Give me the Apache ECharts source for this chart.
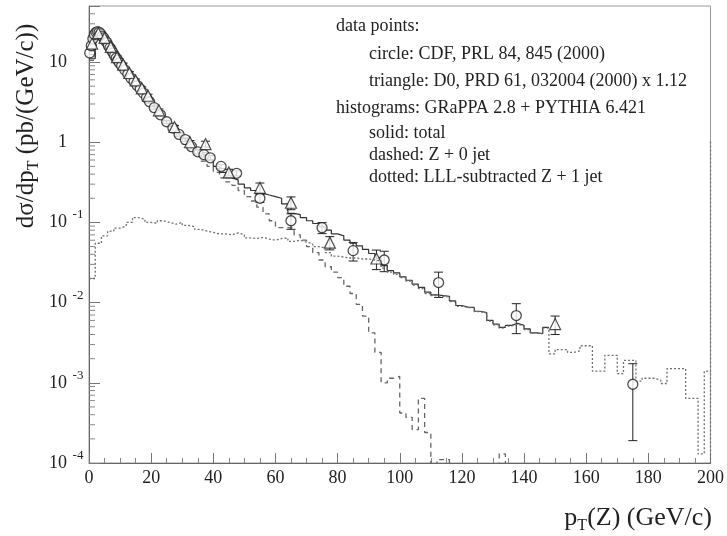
<!DOCTYPE html>
<html>
<head>
<meta charset="utf-8">
<script src="https://cdn.jsdelivr.net/npm/echarts@6/dist/echarts.min.js"></script>
<style>
html,body{margin:0;padding:0;background:#fff;}
#chart{width:727px;height:536px;}
</style>
</head>
<body>
<div id="chart"></div>
<script>
// ---- data ----
const binWidth = 2; // GeV
// solid: total, bins 0-148
const totalVals = [11,22,20,15.5,12,9.3,7.5,5.9,4.7,3.7,
  2.9,2.3,1.85,1.55,1.3,1.1,0.93,0.8,0.7,0.6,
  0.5,0.42,0.36,0.34,0.3,0.27,0.25,0.23,0.22,0.21,
  0.2,0.17,0.13,0.125,0.115,0.105,0.097,0.088,0.08,0.072,
  0.068,0.06,0.055,0.051,0.046,0.041,0.036,0.029,0.025,0.0235,
  0.021,0.019,0.017,0.0155,0.0135,0.0125,0.0122,0.012,0.0105,0.0092,
  0.0088,0.0087,0.0078,0.0075,0.006,0.0054,0.0049,0.0052,0.0055,0.0052,
  0.0047,0.0042,0.0041,0.0049];
// dashed: Z + 0 jet, bins 0-200 (0 = empty bin)
const dashedVals = [10.5,21,19.5,15,11.5,9,7.2,5.6,4.4,3.5,
  2.7,2.1,1.7,1.4,1.15,0.95,0.8,0.68,0.58,0.5,
  0.42,0.36,0.32,0.29,0.25,0.21,0.185,0.155,0.128,0.105,
  0.086,0.086,0.085,0.07,0.06,0.05,0.042,0.034,0.028,0.024,
  0.0205,0.016,0.013,0.0095,0.0068,0.0042,0.0024,0.001,0.00114,0.0012,
  0.00042,0.00037,0.00026,0.00064,0.00024,0,0.00011,0.00011,0,0,
  0,0,0,0,0,0,0.00013,0,0,0,
  0,0,0,0,0,0,0,0,0,0,
  0,0,0,0,0,0,0,0,0,0,
  0,0,0,0,0,0,0,0,0,0];
// dotted: LLL-subtracted Z + 1 jet, bins 0-200, plus the edge spike at 200
const dottedVals = [0.02,0.055,0.068,0.078,0.085,0.09,0.1,0.115,0.11,0.1,
  0.098,0.105,0.1,0.095,0.1,0.092,0.088,0.082,0.078,0.075,
  0.072,0.072,0.07,0.074,0.07,0.064,0.063,0.065,0.062,0.06,
  0.063,0.064,0.058,0.06,0.057,0.054,0.05,0.048,0.042,0.038,
  0.037,0.036,0.036,0.035,0.035,0.034,0.033,0.027,0.024,0.0225,
  0.0205,0.0185,0.0165,0.015,0.013,0.0122,0.012,0.0118,0.0103,0.009,
  0.0087,0.0086,0.0077,0.0074,0.0059,0.0053,0.0048,0.0051,0.0054,0.0051,
  0.0046,0.0042,0.0041,0.0048,0.0023,0.0026,0.0026,0.0024,0.0025,0.0029,
  0.0029,0.0014,0.0014,0.0022,0.0022,0.0013,0.0019,0.0019,0.00105,0.00114,
  0.00114,0.00108,0.00098,0.0015,0.0015,0.0015,0.00064,0.00064,0.00013,0.0014];
const dottedEdgeSpike = 1.05;
// circles: CDF
const cdfPt = [0.25,0.75,1.25,1.75,2.25,2.75,3.25,3.75,4.25,4.75,
  5.25,5.75,6.25,6.75,7.25,7.75,8.25,8.75,9.25,9.75,
  10.5,11.5,12.5,13.5,14.5,15.5,16.5,17.5,18.5,19.5,
  21,23,25,27,29,31,33,35,37,39,
  42.5,47.5,55,65,75,85,95,112.5,137.5,175];
const cdfVal = [13,16,19.5,22,23.5,24,23.5,22.5,21,20,
  18.5,17.5,16,15,14,13,12,11.2,10.5,9.8,
  9,8,7.1,6.3,5.7,5.1,4.6,4.1,3.6,3.2,
  2.7,2.2,1.8,1.5,1.25,1.08,0.88,0.76,0.7,0.64,
  0.5,0.41,0.20,0.105,0.086,0.0445,0.034,0.0178,0.0069,0.00096];
const cdfErr = [0.6,0.7,0.8,0.9,0.9,0.9,0.9,0.9,0.8,0.8,
  0.7,0.7,0.6,0.6,0.6,0.5,0.5,0.5,0.45,0.45,
  0.35,0.3,0.28,0.25,0.23,0.21,0.19,0.17,0.16,0.14,
  0.1,0.09,0.08,0.07,0.06,0.055,0.05,0.045,0.045,0.04,
  0.03,0.03,0.022,0.023,0.0135,0.0115,0.0097,0.0062,0.0028,0.00077];
// triangles: D0 x 1.12
const d0Pt = [1,3,5,7,9,11,13,15,17,19,22.5,27.5,32.5,37.5,45,55,65,77.5,92.5,150];
const d0Val = [17,23,20,15.5,11.5,9.3,7.3,5.9,4.7,3.8,2.5,1.55,1.0,0.95,0.42,0.27,0.176,0.056,0.0355,0.0054];
const d0Err = [0.8,1,0.9,0.7,0.5,0.4,0.3,0.25,0.2,0.17,0.1,0.07,0.05,0.08,0.04,0.04,0.032,0.0105,0.0097,0.0014];
// axes
const xMin = 0, xMax = 200, xStep = 20;
const yMin = 1e-4, yMax = 50;
const yMinorMantissa = [2,3,4,5,6,7,8,9];
const legendLines = [
  {text:'data points:', indent:0},
  {text:'circle: CDF, PRL 84, 845 (2000)', indent:1},
  {text:'triangle: D0, PRD 61, 032004 (2000) x 1.12', indent:1},
  {text:'histograms: GRaPPA 2.8 + PYTHIA 6.421', indent:0},
  {text:'solid: total', indent:1},
  {text:'dashed: Z + 0 jet', indent:1},
  {text:'dotted: LLL-subtracted Z + 1 jet', indent:1}
];

// ---- build ----
const FLOOR = 1e-7;
function hist(vals, opts){
  opts = opts || {};
  const pts = vals.map((v,i)=>[xMin + i*binWidth, v>0 ? v : FLOOR]);
  const end = xMin + vals.length*binWidth;
  const last = vals[vals.length-1];
  pts.push([end, last>0?last:FLOOR]);
  if (opts.spike) pts.push([end, opts.spike]);
  if (opts.drop) pts.push([end, opts.dropTo || FLOOR]);
  return pts;
}
const minorTickData = [];
for (let e = -4; e <= 1; e++) {
  yMinorMantissa.forEach(m => { const v = m*Math.pow(10,e); if (v < yMax) minorTickData.push([xMin, v]); });
}
function errData(pt, val, err){
  return pt.map((x,i)=>[x, Math.max(val[i]-err[i], FLOOR), val[i]+err[i]]);
}
const ink = '#222';
const serif = '"Liberation Serif","DejaVu Serif",serif';

function errRender(params, api){
  const x = api.value(0);
  const p1 = api.coord([x, api.value(1)]);
  const p2 = api.coord([x, api.value(2)]);
  const w = 4.5;
  const st = {stroke: ink, lineWidth: 1};
  return {type:'group', children:[
    {type:'line', shape:{x1:p1[0],y1:p1[1],x2:p2[0],y2:p2[1]}, style:st},
    {type:'line', shape:{x1:p1[0]-w,y1:p1[1],x2:p1[0]+w,y2:p1[1]}, style:st},
    {type:'line', shape:{x1:p2[0]-w,y1:p2[1],x2:p2[0]+w,y2:p2[1]}, style:st}
  ]};
}

const chart = echarts.init(document.getElementById('chart'), null, {renderer:'canvas'});
const graphics = [];
const legendY = [26,54,81,108,133,155,177];
legendLines.forEach((l,i)=>{
  graphics.push({type:'text', x: l.indent ? 369 : 336, y: legendY[i],
    style:{text:l.text, font:'18px '+serif, fill:ink, verticalAlign:'middle', align:'left'}});
});
graphics.push({type:'text', x:26, y:126, rotation:Math.PI/2,
  style:{text:'{a|dσ/dp}{s|T}{a| (pb/(GeV/c))}', align:'center', verticalAlign:'middle',
    rich:{a:{fontFamily:serif, fontSize:25, lineHeight:32, fill:ink},
          s:{fontFamily:serif, fontSize:16, lineHeight:14, verticalAlign:'bottom', fill:ink}}}});
graphics.push({type:'text', x:712, y:518,
  style:{text:'{a|p}{s|T}{a|(Z) (GeV/c)}', align:'right', verticalAlign:'middle',
    rich:{a:{fontFamily:serif, fontSize:26, lineHeight:32, fill:ink},
          s:{fontFamily:serif, fontSize:16, lineHeight:14, verticalAlign:'bottom', fill:ink}}}});

chart.setOption({
  animation:false,
  backgroundColor:'#fff',
  grid:{left:89, right:16, top:6, bottom:73, show:true, borderColor:'#999', borderWidth:1},
  xAxis:{type:'value', min:xMin, max:xMax, interval:xStep,
    axisLine:{lineStyle:{color:'#666'}},
    axisTick:{inside:true, length:10, lineStyle:{color:'#777'}},
    minorTick:{show:true, splitNumber:4, length:5, lineStyle:{color:'#888'}},
    splitLine:{show:false},
    axisLabel:{margin:6, color:ink, fontFamily:serif, fontSize:18}},
  yAxis:{type:'log', logBase:10, min:yMin, max:yMax,
    axisLine:{show:true, lineStyle:{color:'#666'}},
    axisTick:{inside:true, length:11, lineStyle:{color:'#777'}},
    splitLine:{show:false},
    axisLabel:{margin:3, color:ink,
      formatter:function(v){
        const e = Math.log10(v); const r = Math.round(e);
        if (Math.abs(e-r) > 1e-6) return '';
        if (r === 0) return '{b|1}{p| }';
        if (r === 1) return '{b|10}{p| }';
        return '{b|10}{e|' + r + '}';
      },
      rich:{b:{fontFamily:serif, fontSize:18, lineHeight:28, color:ink},
            e:{fontFamily:serif, fontSize:13, lineHeight:8, verticalAlign:'top', width:16, align:'left', color:ink, padding:[0,0,0,3]},
            p:{fontFamily:serif, fontSize:13, width:19}}}},
  graphic:graphics,
  series:[
    {type:'custom', name:'yminor', data:minorTickData, silent:true, z:1,
      encode:{x:0,y:1},
      renderItem:function(params, api){
        const p = api.coord([api.value(0), api.value(1)]);
        return {type:'line', shape:{x1:p[0], y1:p[1], x2:p[0]+6, y2:p[1]}, style:{stroke:'#888', lineWidth:1}};
      }},
    {type:'line', name:'dotted', step:'end', data:hist(dottedVals, {spike:dottedEdgeSpike, drop:true, dropTo:yMin}), showSymbol:false, clip:false, z:7,
      lineStyle:{color:'#6f6f6f', width:1.3, type:[2,2]}},
    {type:'line', name:'dashed', step:'end', data:hist(dashedVals, {drop:true}), showSymbol:false, clip:true, z:3,
      lineStyle:{color:'#666', width:1.3, type:[5,4]}},
    {type:'line', name:'total', step:'end', data:hist(totalVals), showSymbol:false, clip:true, z:4,
      lineStyle:{color:'#333', width:1.2}},
    {type:'custom', name:'cdfErr', data:errData(cdfPt, cdfVal, cdfErr), encode:{x:0, y:[1,2]}, renderItem:errRender, z:5, clip:true},
    {type:'custom', name:'d0Err', data:errData(d0Pt, d0Val, d0Err), encode:{x:0, y:[1,2]}, renderItem:errRender, z:5, clip:true},
    {type:'scatter', name:'CDF', data:cdfPt.map((x,i)=>[x, cdfVal[i]]), symbol:'circle', symbolSize:10, z:6,
      itemStyle:{color:'#fff', borderColor:ink, borderWidth:1.3}},
    {type:'scatter', name:'D0', data:d0Pt.map((x,i)=>[x, d0Val[i]]), symbol:'triangle', symbolSize:11, z:6,
      itemStyle:{color:'#fff', borderColor:ink, borderWidth:1.2}}
  ]
});
</script>
</body>
</html>
